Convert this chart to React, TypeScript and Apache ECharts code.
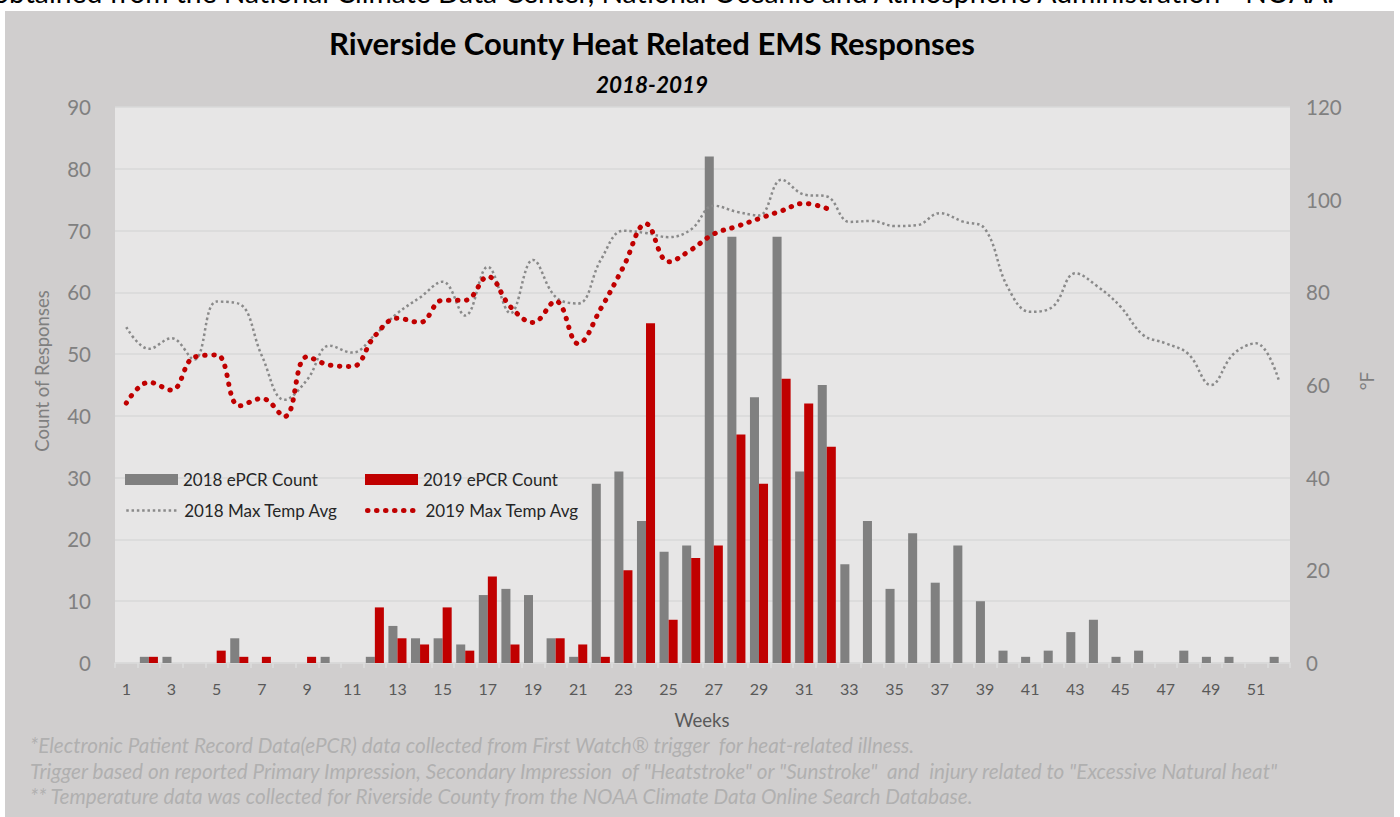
import React, { useEffect, useRef } from "react";
import * as echarts from "echarts";

const weeks = [
  "1", "2", "3", "4", "5", "6", "7", "8", "9", "10", "11", "12", "13",
  "14", "15", "16", "17", "18", "19", "20", "21", "22", "23", "24", "25", "26",
  "27", "28", "29", "30", "31", "32", "33", "34", "35", "36", "37", "38", "39",
  "40", "41", "42", "43", "44", "45", "46", "47", "48", "49", "50", "51", "52",
];

const count2018 = [
  0, 1, 1, 0, 0, 4, 0, 0, 0, 1, 0, 1, 6,
  4, 4, 3, 11, 12, 11, 4, 1, 29, 31, 23, 18, 19,
  82, 69, 43, 69, 31, 45, 16, 23, 12, 21, 13, 19, 10,
  2, 1, 2, 5, 7, 1, 2, 0, 2, 1, 1, 0, 1,
];

const count2019 = [
  0, 1, 0, 0, 2, 1, 1, 0, 1, 0, 0, 9, 4,
  3, 9, 2, 14, 3, 0, 4, 3, 1, 15, 55, 7, 17,
  19, 37, 29, 46, 42, 35, null, null, null, null, null, null, null,
  null, null, null, null, null, null, null, null, null, null, null, null, null,
];

const temp2018 = [
  72.5, 67.8, 70.1, 65.5, 78, 77.5, 66.3, 56.8, 61.1, 68.5, 67, 70.8, 75.5,
  78.9, 82.3, 75, 85.5, 75.5, 87, 79, 77.6, 87, 93.3, 92.8, 91.9, 93.6,
  98.7, 97.4, 96.6, 104.3, 101.1, 100.7, 95.2, 95.4, 94.3, 94.5, 97.1, 95.3, 93.7,
  81.2, 75.8, 76.9, 84.1, 81.2, 76.9, 70.8, 69, 66.7, 60, 66.7, 69, 61.1,
];

const temp2019 = [
  56.1, 60.6, 58.9, 66, 66.5, 55.5, 57.1, 53.2, 66.1, 64.3, 64, 70.6, 74.4,
  73.5, 78.3, 78.3, 83.4, 76.9, 73.5, 78.1, 68.9, 76.5, 85.5, 94.8, 86.6, 89.2,
  92.6, 94.2, 95.9, 97.6, 99.2, 98.1, null, null, null, null, null, null, null,
  null, null, null, null, null, null, null, null, null, null, null, null, null,
];

const countTicks = { min: 0, max: 90, interval: 10 };
const tempTicks = { min: 0, max: 120, interval: 20 };

const seriesNames = ["2018 ePCR Count", "2019 ePCR Count", "2018 Max Temp Avg", "2019 Max Temp Avg"];

const topLine = "obtained from the National Climate Data Center, National Oceanic and Atmospheric Administration - NOAA.";
const titleText = "Riverside County Heat Related EMS Responses";
const subtitleText = "2018-2019";
const footnotes = [
  "*Electronic Patient Record Data(ePCR) data collected from First Watch\u00AE trigger  for heat-related illness.",
  "Trigger based on reported Primary Impression, Secondary Impression  of \"Heatstroke\" or \"Sunstroke\"  and  injury related to \"Excessive Natural heat\"",
  "** Temperature data was collected for Riverside County from the NOAA Climate Data Online Search Database.",
];

const FONT = "Lato";
const GRAY = "#808080";
const LINEGRAY = "#8a8a8a";
const RED = "#c00000";

const grayDots = { color: LINEGRAY, width: 2.5, type: [2.5, 2.8] };
const redDots = { color: RED, width: 5, type: [0.5, 8.5], cap: "round" };

function buildOption(): any {
  const legendBase = {
    padding: 0,
    itemGap: 0,
    itemWidth: 53,
    itemHeight: 11,
    selectedMode: false,
    textStyle: { fontFamily: FONT, fontSize: 17, color: "#262626" },
  };
  const hidden = { color: "rgba(0,0,0,0)", borderColor: "rgba(0,0,0,0)", borderWidth: 0 };
  return {
    animation: false,
    backgroundColor: "#ffffff",
    textStyle: { fontFamily: FONT },
    graphic: [
      {
        type: "rect",
        z: -10,
        shape: { x: 5, y: 11, width: 1389, height: 820 },
        style: { fill: "#d0cece" },
      },
      {
        type: "text",
        x: -7,
        y: -8.5,
        style: { text: topLine, fontFamily: FONT, fontSize: 28.3, fill: "#000000", verticalAlign: "middle" },
      },
      {
        type: "text",
        x: 652,
        y: 43,
        style: {
          text: titleText, fontFamily: FONT, fontSize: 31, fontWeight: "bold",
          fill: "#000000", align: "center", verticalAlign: "middle",
        },
      },
      {
        type: "text",
        x: 652,
        y: 84,
        style: {
          text: subtitleText, fontFamily: FONT, fontSize: 22.5, fontWeight: "bold", fontStyle: "italic",
          fill: "#000000", align: "center", verticalAlign: "middle",
        },
      },
      {
        type: "text",
        x: 42,
        y: 371,
        rotation: Math.PI / 2,
        style: {
          text: "Count of Responses", fontFamily: FONT, fontSize: 18.5,
          fill: "#7f7f7f", align: "center", verticalAlign: "middle",
        },
      },
      {
        type: "text",
        x: 1366,
        y: 381,
        rotation: Math.PI / 2,
        style: {
          text: "\u00B0F", fontFamily: FONT, fontSize: 19,
          fill: "#7f7f7f", align: "center", verticalAlign: "middle",
        },
      },
      {
        type: "text",
        x: 702,
        y: 720,
        style: {
          text: "Weeks", fontFamily: FONT, fontSize: 18.5,
          fill: "#595959", align: "center", verticalAlign: "middle",
        },
      },
      ...footnotes.map((t, i) => ({
        type: "text",
        x: 30,
        y: 745 + i * 25.5,
        style: {
          text: t, fontFamily: FONT, fontSize: 20.7, fontStyle: "italic",
          fill: "#b0b0b0", verticalAlign: "middle",
        },
      })),
    ],
    legend: [
      { ...legendBase, data: [seriesNames[0]], left: 125, top: 471, icon: "rect" },
      { ...legendBase, data: [seriesNames[1]], left: 365, top: 471, icon: "rect" },
      { ...legendBase, data: [seriesNames[2]], left: 125, top: 502, itemStyle: hidden, lineStyle: grayDots },
      { ...legendBase, data: [seriesNames[3]], left: 365, top: 502, itemStyle: hidden, lineStyle: redDots },
    ],
    grid: {
      left: 115,
      right: 110,
      top: 107,
      bottom: 154,
      show: true,
      backgroundColor: "#e7e6e6",
      borderWidth: 0,
    },
    xAxis: {
      type: "category",
      data: weeks,
      boundaryGap: true,
      axisLine: { lineStyle: { color: "#d9d9d9", width: 1.5 } },
      axisTick: { show: true, interval: 0, length: 5, lineStyle: { color: "#dcdcdc", width: 1.5 } },
      axisLabel: { interval: 1, color: "#595959", fontSize: 16, fontFamily: FONT, margin: 17 },
      splitLine: { show: false },
    },
    yAxis: [
      {
        type: "value",
        ...countTicks,
        axisLine: { show: false },
        axisTick: { show: false },
        axisLabel: { color: "#808080", fontSize: 20.5, fontFamily: FONT, margin: 24 },
        splitLine: { show: true, lineStyle: { color: "#d9d9d9", width: 1.5 } },
      },
      {
        type: "value",
        position: "right",
        ...tempTicks,
        axisLine: { show: false },
        axisTick: { show: false },
        axisLabel: { color: "#808080", fontSize: 20.5, fontFamily: FONT, margin: 16 },
        splitLine: { show: false },
      },
    ],
    series: [
      {
        type: "bar",
        name: seriesNames[0],
        data: count2018,
        barGap: "0%",
        barCategoryGap: "20%",
        itemStyle: { color: GRAY },
      },
      {
        type: "bar",
        name: seriesNames[1],
        data: count2019,
        barGap: "0%",
        barCategoryGap: "20%",
        itemStyle: { color: RED },
      },
      {
        type: "line",
        name: seriesNames[2],
        yAxisIndex: 1,
        data: temp2018,
        smooth: 0.4,
        symbol: "none",
        itemStyle: { color: LINEGRAY },
        lineStyle: grayDots,
        z: 5,
      },
      {
        type: "line",
        name: seriesNames[3],
        yAxisIndex: 1,
        data: temp2019,
        smooth: 0.4,
        symbol: "none",
        connectNulls: false,
        itemStyle: { color: RED },
        lineStyle: redDots,
        z: 6,
      },
    ],
  };
}

export default function App() {
  const ref = useRef<HTMLDivElement>(null);
  useEffect(() => {
    document.body.style.margin = "0";
    const chart = echarts.init(ref.current as HTMLDivElement, null, { renderer: "svg" });
    chart.setOption(buildOption());
    return () => {
      chart.dispose();
    };
  }, []);
  return (
    <div
      ref={ref}
      style={{ position: "absolute", left: 0, top: 0, width: 1400, height: 817, background: "#ffffff" }}
    />
  );
}
